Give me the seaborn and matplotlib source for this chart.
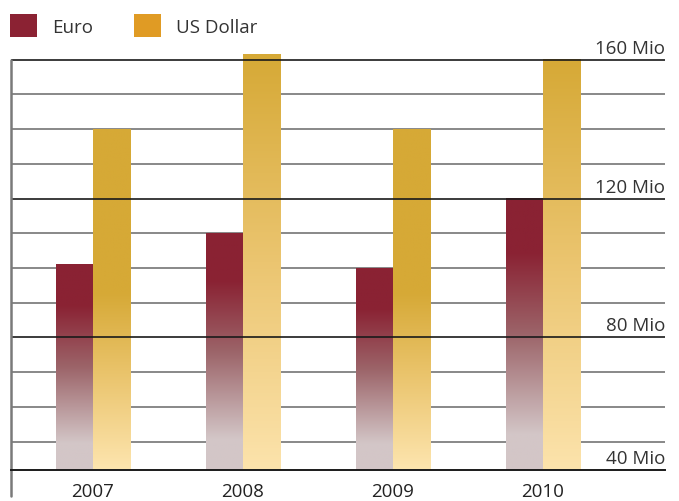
import matplotlib
matplotlib.use("Agg")
import matplotlib.pyplot as plt
from matplotlib.patches import Patch
import matplotlib.colors as mcolors
import seaborn as sns
import pandas as pd
import numpy as np

# Data (values in Mio)
years = ["2007", "2008", "2009", "2010"]
euro = [101, 110, 100, 120]
usd = [140, 161.5, 140, 160]
series = ["Euro", "US Dollar"]
tick_values = [40, 80, 120, 160]
tick_labels = ["40 Mio", "80 Mio", "120 Mio", "160 Mio"]
minor_values = [50, 60, 70, 90, 100, 110, 130, 140, 150]

# Styling
font_size = 13.5
text_color = "#333333"
legend_colors = {"Euro": "#8B2233", "US Dollar": "#E09B24"}
bar_top = {"Euro": "#8A2233", "US Dollar": "#D6A936"}
axis_floor = 41.8
axis_top = 163.1

# gradient stops (fraction of bar height from top -> colour)
euro_stops = [(0.0, "#8A2233"), (0.2, "#8A2233"), (0.5, "#9C6469"),
              (0.87, "#D3C6C7"), (1.0, "#D3C6C7")]
usd_stops_late = [(0.0, "#D6A936"), (0.48, "#D6A936"), (0.72, "#EAC46C"),
                  (1.0, "#FDE5AF")]
usd_stops_early = [(0.0, "#D6A936"), (0.5, "#EBC570"), (1.0, "#FCE3AC")]
usd_stop_style = [usd_stops_late, usd_stops_early, usd_stops_late, usd_stops_early]

df = pd.DataFrame({
    "Year": years * 2,
    "Currency": ["Euro"] * len(years) + ["US Dollar"] * len(years),
    "Value": euro + usd,
})

sns.set_style("white")
plt.rcParams["font.family"] = ["Open Sans", "DejaVu Sans"]

fig = plt.figure(figsize=(6.79, 5.02), dpi=100)
ax = fig.add_axes([11 / 679, 31 / 502, 654 / 679, 421 / 502])

sns.barplot(data=df, x="Year", y="Value", hue="Currency", order=years,
            hue_order=series, palette=bar_top, width=0.5, ax=ax,
            legend=False, zorder=2)


def gradient(stops, n=256):
    fr = np.array([s[0] for s in stops])
    cols = np.array([mcolors.to_rgb(s[1]) for s in stops])
    t = np.linspace(0, 1, n)
    img = np.stack([np.interp(t, fr, cols[:, c]) for c in range(3)], axis=1)
    return img[:, None, :]


# replace flat bar faces with vertical gradients
for cont, name in zip(ax.containers, series):
    for i, bar in enumerate(cont.patches):
        x0 = bar.get_x()
        x1 = x0 + bar.get_width()
        top = bar.get_y() + bar.get_height()
        stops = euro_stops if name == "Euro" else usd_stop_style[i]
        ax.imshow(gradient(stops), extent=(x0, x1, axis_floor, top),
                  origin="upper", aspect="auto", zorder=2, interpolation="bilinear")
        bar.set_facecolor("none")
        bar.set_edgecolor("none")

ax.set_xlim(-0.547, -0.547 + 654 / 150)
ax.set_ylim(axis_floor, axis_top)

# grid lines: minor ones behind bars, major ones over the bars
for v in minor_values:
    ax.axhline(v, color="#747474", lw=1.2, zorder=1)
for v in tick_values[1:]:
    ax.axhline(v, color="#1a1a1a", lw=1.2, zorder=3)

# value labels right-aligned above the major lines
trans = ax.get_yaxis_transform()
for v, lab in zip(tick_values, tick_labels):
    ax.annotate(lab, xy=(1.0, max(v, axis_floor)), xycoords=trans,
                xytext=(0, 5), textcoords="offset points", ha="right",
                va="baseline", fontsize=font_size, color=text_color)

# spines
for s in ["top", "right", "left"]:
    ax.spines[s].set_visible(False)
ax.spines["bottom"].set_color("#1a1a1a")
ax.spines["bottom"].set_linewidth(1.4)
ax.spines["bottom"].set_zorder(4)
ax.plot([0, 0], [tick_values[-1], axis_floor - 7.5], transform=trans,
        color="#7a7a7a", lw=1.8, clip_on=False, zorder=4)

ax.set_yticks([])
ax.set_xlabel("")
ax.set_ylabel("")
ax.tick_params(axis="x", length=0, pad=8.5, labelsize=font_size, labelcolor="#222222")

# legend
handles = [Patch(facecolor=legend_colors[n], edgecolor="none", label=n) for n in series]
fig.legend(handles=handles, loc="center left", bbox_to_anchor=(10 / 679, 1 - 26.5 / 502),
           ncol=2, frameon=False, fontsize=font_size, handlelength=1.44,
           handleheight=1.44, handletextpad=0.8, columnspacing=2.2,
           borderpad=0, borderaxespad=0, labelcolor=text_color)

fig.savefig("out.png", dpi=100)
